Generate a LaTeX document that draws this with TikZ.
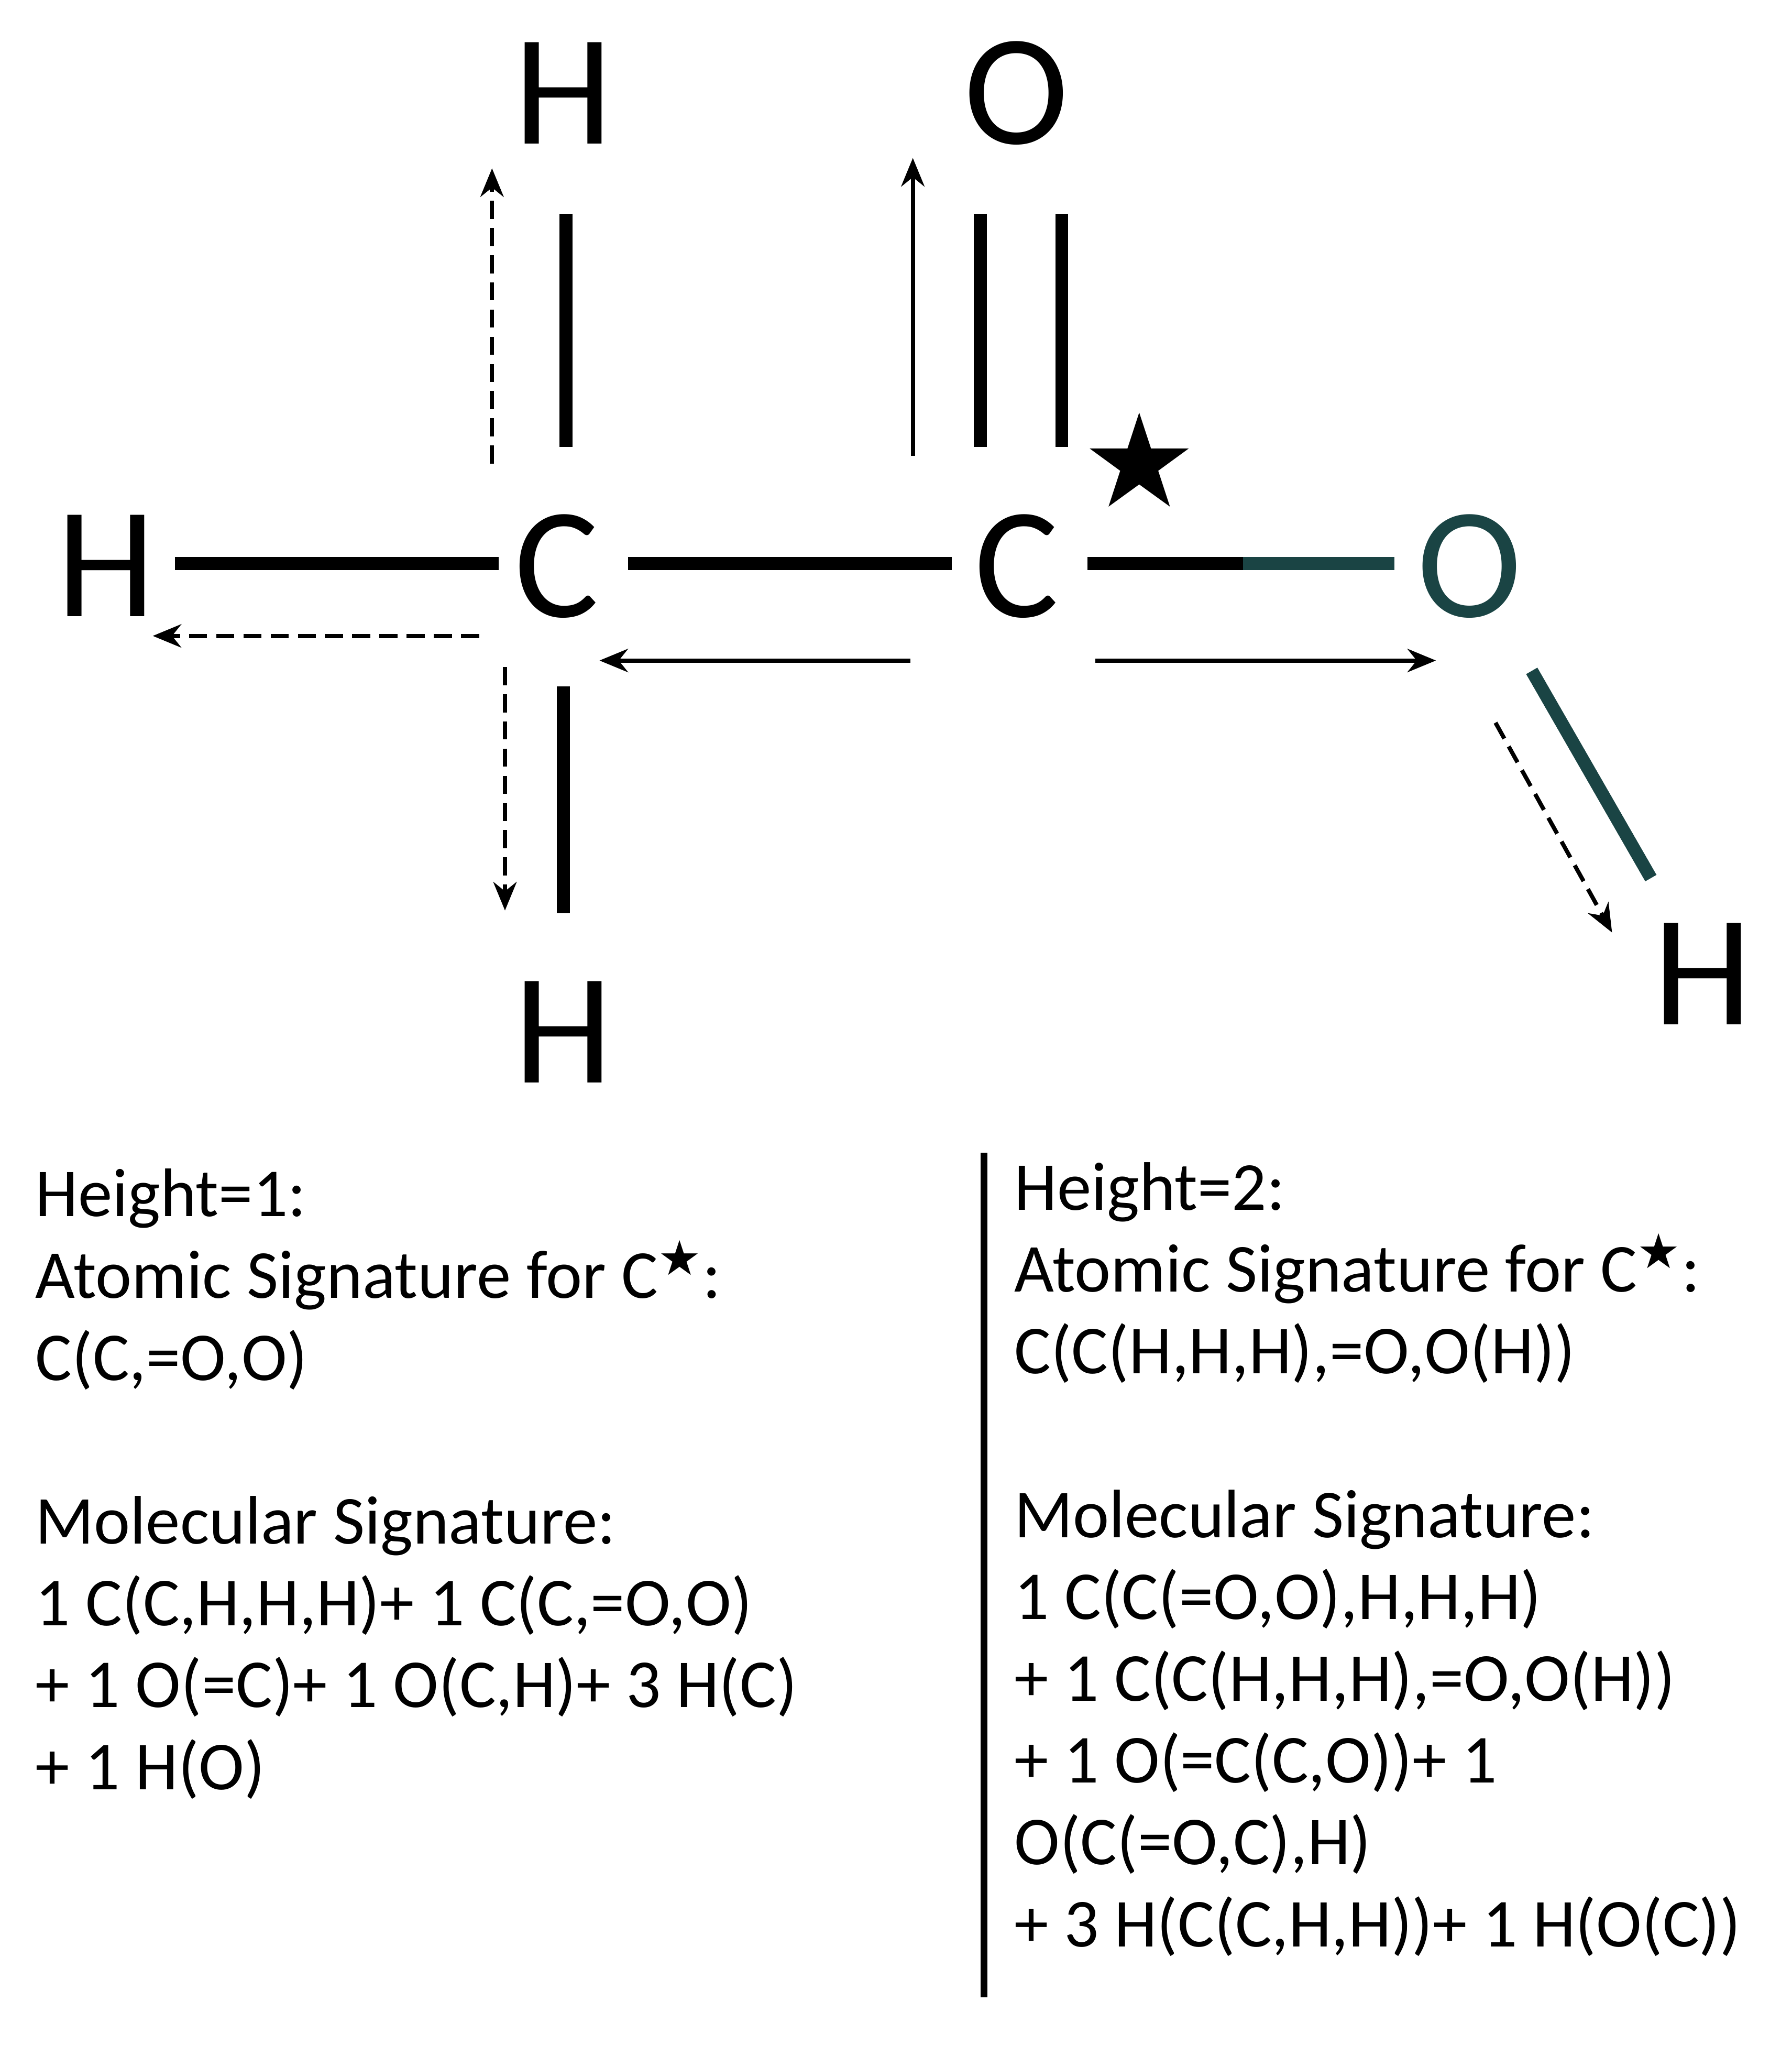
\documentclass[tikz,border=0pt]{standalone}
\usepackage{fontspec}
\setmainfont{Carlito}
\newfontfamily\djv{DejaVu Sans}
\usetikzlibrary{arrows.meta}
\definecolor{teal1}{HTML}{1A4444}
\tikzset{
 atom/.style={font=\fontsize{61}{61}\selectfont, inner sep=0pt},
 bond/.style={line width=5pt},
 arr/.style={line width=1.6pt,-{Stealth[length=11pt,width=9pt]}},
 darr/.style={arr, dash pattern=on 7pt off 3.5pt},
 txt/.style={font=\fontsize{26.5}{31.6}\selectfont, anchor=north west, align=left, inner sep=0pt}
}
\newcommand{\cstar}{C\textsuperscript{\djv ★}}
\begin{document}
\begin{tikzpicture}[x=0.5pt,y=-0.5pt]
\useasboundingbox[fill=white] (0,0) rectangle (1384,1579);
\node[atom] (Ht) at (435,72) {H};
\node[atom] (Ot) at (785,72) {O};
\node[atom] (Hl) at (82,437) {H};
\node[atom] (C1) at (430,437) {C};
\node[atom] (C2) at (785,437) {C};
\node[atom,text=teal1] (Or) at (1135,437) {O};
\node[atom] (Hb) at (435,797) {H};
\node[atom] (Hr) at (1315,752) {H};
\node[font=\djv\fontsize{50}{50}\selectfont, inner sep=0pt] (st) at (880,355) {★};
% bonds
\draw[bond] (437,165) -- (437,345);
\draw[bond] (435,530) -- (435,705);
\draw[bond] (135,435) -- (385,435);
\draw[bond] (485,435) -- (735,435);
\draw[bond] (757,165) -- (757,345);
\draw[bond] (820,165) -- (820,345);
\draw[bond] (840,435) -- (960,435);
\draw[bond,teal1] (960,435) -- (1077,435);
\draw[bond,teal1] (1183,518) -- (1275,678);
% arrows
\coordinate (a1) at (380,358); \coordinate (a1e) at (380,130);
\draw[darr] (a1) -- (a1e);
\coordinate (a2) at (705,352); \coordinate (a2e) at (705,122);
\draw[arr] (a2) -- (a2e);
\coordinate (a3) at (370,491); \coordinate (a3e) at (118,491);
\draw[darr] (a3) -- (a3e);
\coordinate (a4) at (703,510); \coordinate (a4e) at (463,510);
\draw[arr] (a4) -- (a4e);
\coordinate (a5) at (846,510); \coordinate (a5e) at (1109,510);
\draw[arr] (a5) -- (a5e);
\coordinate (a6) at (390,515); \coordinate (a6e) at (390,703);
\draw[darr] (a6) -- (a6e);
\coordinate (a7) at (1155,558); \coordinate (a7e) at (1245,720);
\draw[darr] (a7) -- (a7e);
% divider
\draw[line width=2.5pt] (760,890) -- (760,1542);
% texts
\node[txt] (tl) at (27,902) {Height=1:\\Atomic Signature for \cstar:\\C(C,=O,O)\\[31.6pt]Molecular Signature:\\1 C(C,H,H,H)+ 1 C(C,=O,O)\\+ 1 O(=C)+ 1 O(C,H)+ 3 H(C)\\+ 1 H(O)};
\node[txt] (tr) at (783,897) {Height=2:\\Atomic Signature for \cstar:\\C(C(H,H,H),=O,O(H))\\[31.6pt]Molecular Signature:\\1 C(C(=O,O),H,H,H)\\+ 1 C(C(H,H,H),=O,O(H))\\+ 1 O(=C(C,O))+ 1\\O(C(=O,C),H)\\+ 3 H(C(C,H,H))+ 1 H(O(C))};
\end{tikzpicture}
\end{document}
